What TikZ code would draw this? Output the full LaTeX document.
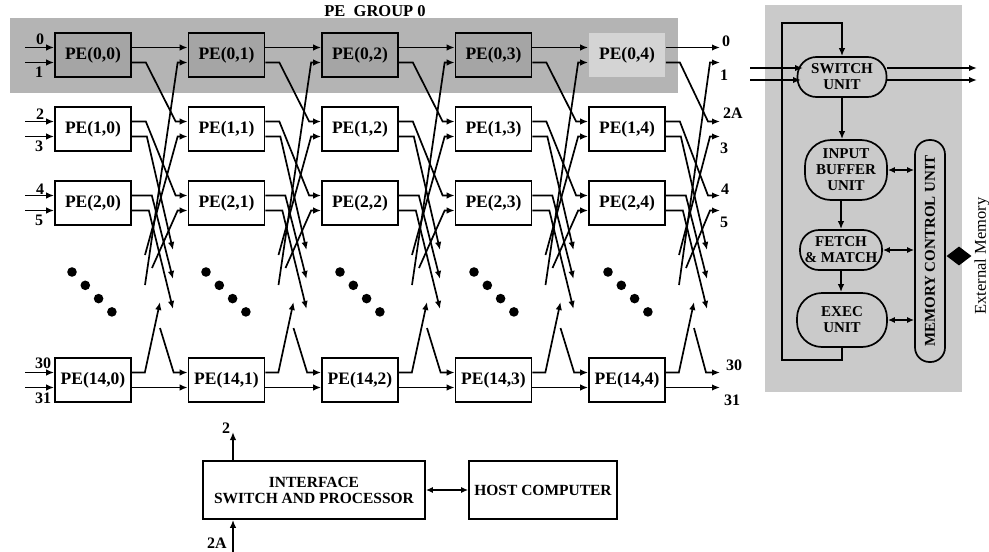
\documentclass[tikz,border=0pt]{standalone}
\usepackage{fontspec}
\setmainfont{Liberation Serif}
\usetikzlibrary{arrows.meta,calc,shapes.geometric}
\definecolor{bandgrey}{RGB}{180,180,180}
\definecolor{pegrey}{RGB}{165,165,165}
\definecolor{pelight}{RGB}{212,212,212}
\definecolor{panelgrey}{RGB}{202,202,202}
\begin{document}
\begin{tikzpicture}[x=1pt,y=-1pt,
  ln/.style={line width=1.7pt},
  arr/.style={ln,-{Latex[length=8pt,width=6.5pt]}},
  darr/.style={ln,{Latex[length=7pt,width=6pt]}-{Latex[length=7pt,width=6pt]}},
  pe/.style={draw,line width=1.7pt,minimum width=76pt,minimum height=44pt,inner sep=0pt,
    font=\fontsize{17.5}{19}\selectfont\bfseries,fill=white},
  pezero/.style={pe,fill=pegrey},
  lab/.style={inner sep=0pt,font=\fontsize{16}{16}\selectfont\bfseries},
  unit/.style={draw,line width=1.7pt,fill=panelgrey,inner sep=0pt,align=center,
    font=\fontsize{15}{16}\selectfont\bfseries},
  bigbox/.style={draw,line width=1.7pt,fill=white,inner sep=0pt,align=center,
    font=\fontsize{15.5}{16}\selectfont\bfseries}
]
\useasboundingbox (0,0) rectangle (989,552);
\fill[white] (0,0) rectangle (989,552);

% PE group band
\fill[bandgrey] (10,18) rectangle (678,93);
\node[lab,font=\fontsize{16.5}{16}\selectfont\bfseries] (grp) at (375,11) {PE\ \ GROUP 0};

% PE nodes
\foreach \j in {0,...,3}{
  \pgfmathsetmacro\cx{93+133.5*\j}
  \node[pezero] (p-0-\j) at (\cx,55) {PE(0,\j)};
}
\node[pe,draw=none,fill=pelight] (p-0-4) at (627,55) {PE(0,4)};
\foreach \r/\yy in {1/129,2/203,14/380}{
  \foreach \j in {0,...,4}{
    \pgfmathsetmacro\cx{93+133.5*\j}
    \node[pe] (p-\r-\j) at (\cx,\yy) {PE(\r,\j)};
  }
}

% ports
\foreach \r/\yy in {0/55,1/129,2/203,14/380}{
  \foreach \j in {0,...,4}{
    \coordinate (p-\r-\j-iu) at ([yshift=7.5pt]p-\r-\j.west);
    \coordinate (p-\r-\j-il) at ([yshift=-7.5pt]p-\r-\j.west);
    \coordinate (p-\r-\j-ou) at ([yshift=7.5pt]p-\r-\j.east);
    \coordinate (p-\r-\j-ol) at ([yshift=-7.5pt]p-\r-\j.east);
  }
  \coordinate (p-\r-5-iu) at (720,\yy-7.5);
  \coordinate (p-\r-5-il) at (720,\yy+7.5);
  \coordinate (in-\r-u) at (25,\yy-7.5);
  \coordinate (in-\r-l) at (25,\yy+7.5);
  \draw[arr] (in-\r-u) -- (p-\r-0-iu);
  \draw[arr] (in-\r-l) -- (p-\r-0-il);
}

% interconnection gaps
\foreach \j [evaluate=\j as \k using int(\j+1), evaluate=\j as \xR using 131+133.5*\j] in {0,...,4}{
  \coordinate (d1-\j) at (\xR+42,250);
  \coordinate (d2-\j) at (\xR+42,279);
  \coordinate (d3-\j) at (\xR+42,309);
  \coordinate (d4-\j) at (\xR+29,302);
  \coordinate (u1-\j) at (\xR+14,285);
  \coordinate (u2-\j) at (\xR+14,255);
  \coordinate (u3-\j) at (\xR+21,268);
  \coordinate (u4-\j) at (\xR+29,328);
  \draw[arr] (p-0-\j-ou) -- (p-0-\k-iu);
  \draw[arr] (p-0-\j-ol) -- ++(14,0) -- ([xshift=-12pt]p-1-\k-iu) -- (p-1-\k-iu);
  \draw[arr] (p-1-\j-ou) -- ++(14,0) -- ([xshift=-12pt]p-2-\k-iu) -- (p-2-\k-iu);
  \draw[arr] (p-1-\j-ol) -- ++(15,0) -- (d1-\j);
  \draw[arr] (p-2-\j-ou) -- ++(20,0) -- (d2-\j);
  \draw[arr] (p-2-\j-ol) -- ++(17,0) -- (d3-\j);
  \draw[arr] (u1-\j) -- ([xshift=-10pt]p-0-\k-il) -- (p-0-\k-il);
  \draw[arr] (u2-\j) -- ([xshift=-10pt]p-1-\k-il) -- (p-1-\k-il);
  \draw[arr] (u3-\j) -- ([xshift=-10pt]p-2-\k-il) -- (p-2-\k-il);
  \draw[arr] (p-14-\j-ou) -- ++(13,0) -- (d4-\j);
  \draw[arr] (u4-\j) -- ([xshift=-14pt]p-14-\k-iu) -- (p-14-\k-iu);
  \draw[arr] (p-14-\j-ol) -- (p-14-\k-il);
}

% dots
\foreach \j in {0,...,4}{
  \foreach \m in {0,...,3}{
    \fill (72+134*\j+13.3*\m,272+13.3*\m) circle (4.8);
  }
}

% input labels
\node[lab] (li0) at (40,39) {0};
\node[lab] (li1) at (39,72) {1};
\node[lab] (li2) at (40,114) {2};
\node[lab] (li3) at (39,146) {3};
\node[lab] (li4) at (40,189) {4};
\node[lab] (li5) at (39,220) {5};
\node[lab] (li30) at (43,363) {30};
\node[lab] (li31) at (43,398) {31};
% output labels
\node[lab] (lo0) at (726,41) {0};
\node[lab] (lo1) at (724,75) {1};
\node[lab] (lo2A) at (733,113) {2A};
\node[lab] (lo3) at (724,148) {3};
\node[lab] (lo4) at (725,189) {4};
\node[lab] (lo5) at (724,222) {5};
\node[lab] (lo30) at (734,365) {30};
\node[lab] (lo31) at (732,400) {31};

% interface and host
\node[bigbox,minimum width=222pt,minimum height=58pt] (intf) at (314,490) {INTERFACE\\SWITCH AND PROCESSOR};
\node[bigbox,minimum width=148pt,minimum height=58pt] (host) at (543,490) {HOST COMPUTER};
\draw[darr] (intf) -- (host);
\coordinate (two) at (233,432);
\coordinate (twoA) at (233,552);
\draw[arr] (two |- intf.north) -- (two);
\draw[arr] (twoA) -- (twoA |- intf.south);
\node[lab] (l2) at (226,428) {2};
\node[lab] (l2A) at (217,543) {2A};

% right panel
\fill[panelgrey] (765,5) rectangle (962,392);
\node[unit,rounded corners=19pt,minimum width=89pt,minimum height=40pt] (sw) at (842,77) {SWITCH\\UNIT};
\node[unit,rounded corners=26pt,minimum width=82pt,minimum height=60pt] (ibu) at (846,170) {INPUT\\BUFFER\\UNIT};
\node[unit,rounded corners=19pt,minimum width=82pt,minimum height=40pt] (fm) at (841,250) {FETCH\\\& MATCH};
\node[unit,rounded corners=25pt,minimum width=90pt,minimum height=54pt] (ex) at (842,320) {EXEC\\UNIT};
\node[unit,rounded corners=14.5pt,rotate=90,minimum width=222pt,minimum height=30pt] (mcu) at (930,251) {MEMORY CONTROL UNIT};
\node[diamond,fill=black,inner sep=0pt,minimum width=25pt,minimum height=19pt] (dia) at (959,256) {};
\node[inner sep=0pt,rotate=90,font=\fontsize{16.5}{16}\selectfont] (extm) at (982,256) {External Memory};

\coordinate (sin1) at (750,68);
\coordinate (sin2) at (750,80);
\coordinate (sie1) at (803,68);
\coordinate (sie2) at (801,80);
\coordinate (sout1) at (977,68);
\coordinate (sout2) at (977,80);
\draw[arr] (sin1) -- (sie1);
\draw[arr] (sin2) -- (sie2);
\draw[arr] (sw.east |- sout1) -- (sout1);
\draw[arr] (sw.east |- sout2) -- (sout2);
\draw[arr] (sw.south) -- (sw.south |- ibu.north);
\draw[arr] (fm.north |- ibu.south) -- (fm.north);
\draw[arr] (fm.south) -- (fm.south |- ex.north);
\draw[darr] (ibu.east) -- (ibu.east -| mcu.north);
\draw[darr] (fm.east) -- (fm.east -| mcu.north);
\draw[darr] (ex.east) -- (ex.east -| mcu.north);
\coordinate (fb1) at (782,360);
\coordinate (fb2) at (782,23);
\draw[arr] (ex.south) |- (fb1) -- (fb2) -| (sw.north);
\end{tikzpicture}
\end{document}
